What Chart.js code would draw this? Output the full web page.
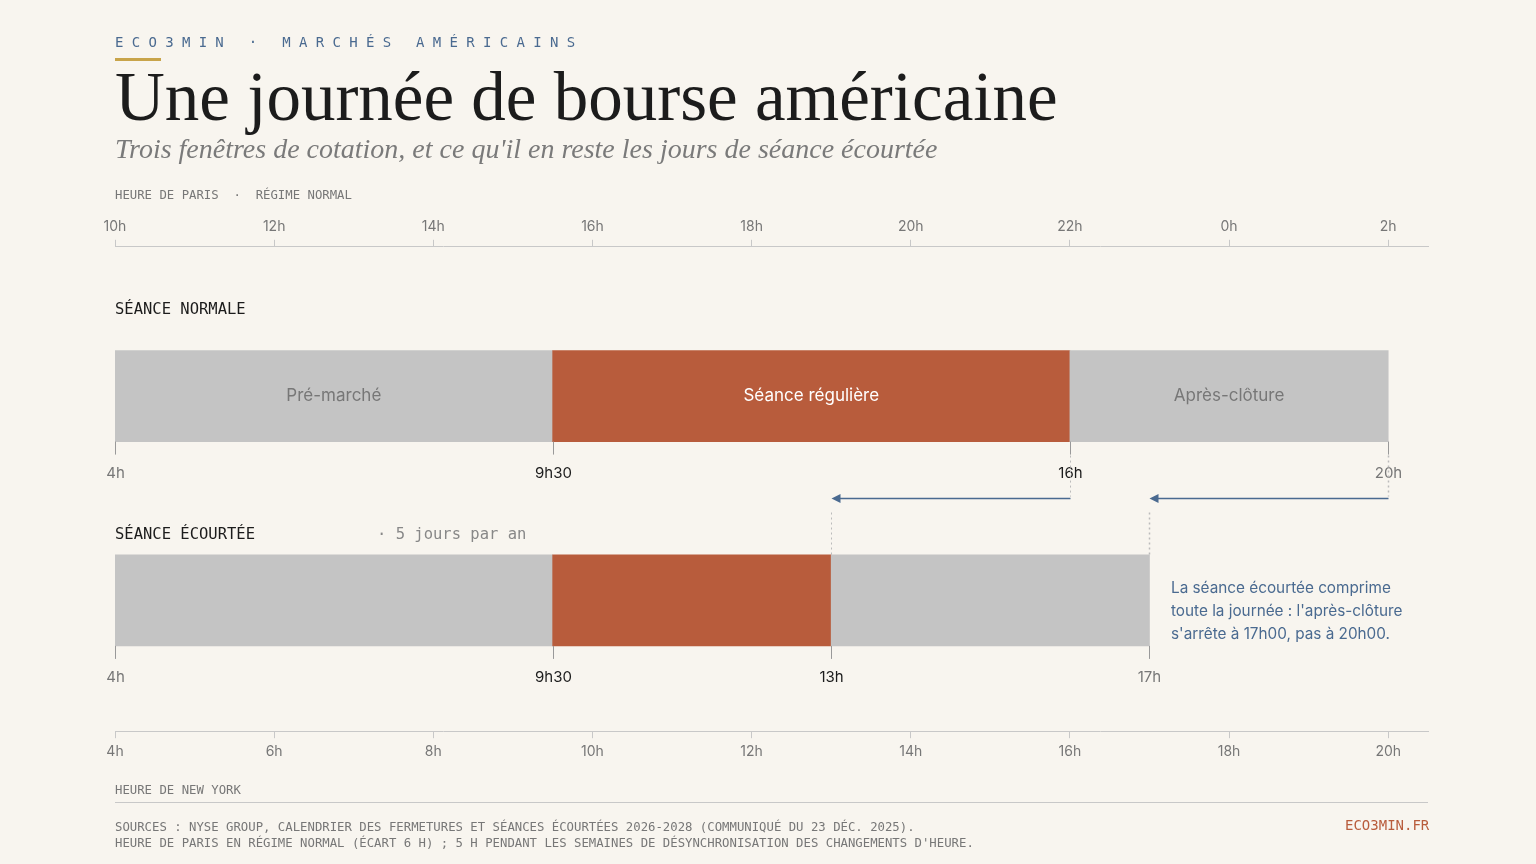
<!DOCTYPE html>
<html><head><meta charset="utf-8">
<script src="https://cdn.jsdelivr.net/npm/chart.js@4.4.0/dist/chart.umd.min.js"></script>
<style>
body{margin:0;background:#f8f5ef;width:1536px;height:864px;overflow:hidden;position:relative;font-family:Inter,sans-serif}
#c{position:absolute;left:0;top:0}
.t{position:absolute;white-space:pre}
.mono{font-family:"DejaVu Sans Mono","Liberation Mono",monospace}
</style></head><body>
<canvas id="c" width="1536" height="864"></canvas>
<div class="t mono" style="left:115px;top:34px;font-size:14px;letter-spacing:8.3px;color:#4a6a90">ECO3MIN · MARCHÉS AMÉRICAINS</div>
<div class="t" style="left:115px;top:58px;width:46px;height:3px;background:#c8a44a"></div>
<div class="t" style="left:115px;top:58px;font-family:'Liberation Serif',serif;font-size:69px;color:#1c1c1c">Une journée de bourse américaine</div>
<div class="t" style="left:115px;top:133px;font-family:'Liberation Serif',serif;font-style:italic;font-size:28px;color:#7a7a7a">Trois fenêtres de cotation, et ce qu'il en reste les jours de séance écourtée</div>
<div class="t mono" style="left:115px;top:188px;font-size:12.3px;color:#777">HEURE DE PARIS  ·  RÉGIME NORMAL</div>
<div class="t mono" style="left:115px;top:300px;font-size:15.5px;color:#1c1c1c">SÉANCE NORMALE</div>
<div class="t mono" style="left:115px;top:525px;font-size:15.5px;color:#1c1c1c">SÉANCE ÉCOURTÉE</div>
<div class="t mono" style="left:377px;top:525px;font-size:15.5px;color:#888">· 5 jours par an</div>
<div class="t" style="left:1171px;top:576px;font-size:15.3px;line-height:23px;color:#4a6a90">La séance écourtée comprime
toute la journée : l'après-clôture
s'arrête à 17h00, pas à 20h00.</div>
<div class="t mono" style="left:115px;top:783px;font-size:12.3px;color:#777">HEURE DE NEW YORK</div>
<div class="t" style="left:115px;top:802px;width:1313px;height:1px;background:#c8c8c8"></div>
<div class="t mono" style="left:115px;top:819px;font-size:12.3px;line-height:16px;color:#777">SOURCES : NYSE GROUP, CALENDRIER DES FERMETURES ET SÉANCES ÉCOURTÉES 2026-2028 (COMMUNIQUÉ DU 23 DÉC. 2025).
HEURE DE PARIS EN RÉGIME NORMAL (ÉCART 6 H) ; 5 H PENDANT LES SEMAINES DE DÉSYNCHRONISATION DES CHANGEMENTS D'HEURE.</div>
<div class="t mono" style="left:1345px;top:817px;font-size:14px;color:#b85c3c">ECO3MIN.FR</div>
<script>
// sessions, NY hours
const sessions = ['Pré-marché', 'Séance régulière', 'Après-clôture'];
const normalStart = [4, 9.5, 16];
const normalEnd = [9.5, 16, 20];
const shortStart = [4, 9.5, 13];
const shortEnd = [9.5, 13, 17];
const sessionColors = ['#c4c4c4', '#b85c3c', '#c4c4c4'];
const nyTicks = [4, 6, 8, 10, 12, 14, 16, 18, 20];
const nyLabels = ['4h', '6h', '8h', '10h', '12h', '14h', '16h', '18h', '20h'];
const parisLabels = ['10h', '12h', '14h', '16h', '18h', '20h', '22h', '0h', '2h'];
const normalMarks = [4, 9.5, 16, 20];
const normalMarkLabels = ['4h', '9h30', '16h', '20h'];
const shortMarks = [4, 9.5, 13, 17];
const shortMarkLabels = ['4h', '9h30', '13h', '17h'];
const rowNormal = 2.89, rowShort = 7.53;

const darkMarks = ['9h30', '16h', '13h'];

const sessionLabels = {
  id: 'sessionLabels',
  afterDatasetsDraw(chart) {
    const ctx = chart.ctx, x = chart.scales.x, y = chart.scales.y;
    ctx.save();
    ctx.textAlign = 'center';
    ctx.textBaseline = 'middle';
    ctx.font = '17px Inter';
    sessions.forEach((s, i) => {
      ctx.fillStyle = i === 1 ? '#ffffff' : '#777';
      ctx.fillText(s, x.getPixelForValue((normalStart[i] + normalEnd[i]) / 2), y.getPixelForValue(rowNormal));
    });
    const drawMarks = (marks, labels, row) => {
      const yb = y.getPixelForValue(row) + 45.5;
      marks.forEach((m, i) => {
        const px = Math.round(x.getPixelForValue(m)) + 0.5;
        ctx.strokeStyle = '#999';
        ctx.lineWidth = 1;
        ctx.beginPath(); ctx.moveTo(px, yb); ctx.lineTo(px, yb + 13); ctx.stroke();
        ctx.fillStyle = darkMarks.includes(labels[i]) ? '#1c1c1c' : '#777';
        ctx.font = '15px Inter';
        ctx.fillText(labels[i], px, yb + 32);
      });
    };
    drawMarks(normalMarks, normalMarkLabels, rowNormal);
    drawMarks(shortMarks, shortMarkLabels, rowShort);
    // dotted guides and arrows
    const yN = y.getPixelForValue(rowNormal) + 45.5, yS = y.getPixelForValue(rowShort) - 45.5;
    const ya = 498.5;
    [[16, 13], [20, 17]].forEach(([from, to]) => {
      const pf = Math.round(x.getPixelForValue(from)) + 0.5, pt = Math.round(x.getPixelForValue(to)) + 0.5;
      ctx.strokeStyle = '#bbb';
      ctx.setLineDash([2, 3]);
      ctx.beginPath(); ctx.moveTo(pf, yN + 14); ctx.lineTo(pf, yN + 55); ctx.stroke();
      ctx.beginPath(); ctx.moveTo(pt, ya + 14); ctx.lineTo(pt, yS); ctx.stroke();
      ctx.setLineDash([]);
      ctx.strokeStyle = '#4a6a90';
      ctx.fillStyle = '#4a6a90';
      ctx.lineWidth = 1.5;
      ctx.beginPath(); ctx.moveTo(pf, ya); ctx.lineTo(pt + 6, ya); ctx.stroke();
      ctx.beginPath(); ctx.moveTo(pt, ya); ctx.lineTo(pt + 9, ya - 4.5); ctx.lineTo(pt + 9, ya + 4.5); ctx.closePath(); ctx.fill();
    });
    ctx.restore();
  }
};

const fixTicks = (scale) => { scale.ticks = nyTicks.map(v => ({ value: v })); };
const axisBase = {
  type: 'linear', min: 4, max: 20.5,
  grid: { drawOnChartArea: false, color: '#c8c8c8', tickLength: 7 },
  border: { color: '#c8c8c8' },
  afterBuildTicks: fixTicks,
};

new Chart(document.getElementById('c'), {
  type: 'bar',
  data: {
    datasets: [
      { data: sessions.map((s, i) => ({ y: rowNormal, x: [normalStart[i], normalEnd[i]] })), backgroundColor: sessionColors },
      { data: sessions.map((s, i) => ({ y: rowShort, x: [shortStart[i], shortEnd[i]] })), backgroundColor: sessionColors },
    ]
  },
  options: {
    indexAxis: 'y',
    responsive: false,
    animation: false,
    layout: { padding: { left: 115, right: 108, top: 213, bottom: 99 } },
    datasets: { bar: { barThickness: 91, grouped: false, borderWidth: 0 } },
    plugins: { legend: { display: false }, tooltip: { enabled: false } },
    scales: {
      y: { type: 'linear', min: 0, max: 10, reverse: true, display: false },
      x: { ...axisBase, position: 'bottom',
        ticks: { color: '#777', font: { family: 'Inter', size: 14 }, padding: 5,
          callback: (v) => nyLabels[nyTicks.indexOf(v)] } },
      xTop: { ...axisBase, position: 'top',
        ticks: { color: '#777', font: { family: 'Inter', size: 14 }, padding: 5,
          callback: (v) => parisLabels[nyTicks.indexOf(v)] } },
    }
  },
  plugins: [sessionLabels]
});
</script>
</body></html>
